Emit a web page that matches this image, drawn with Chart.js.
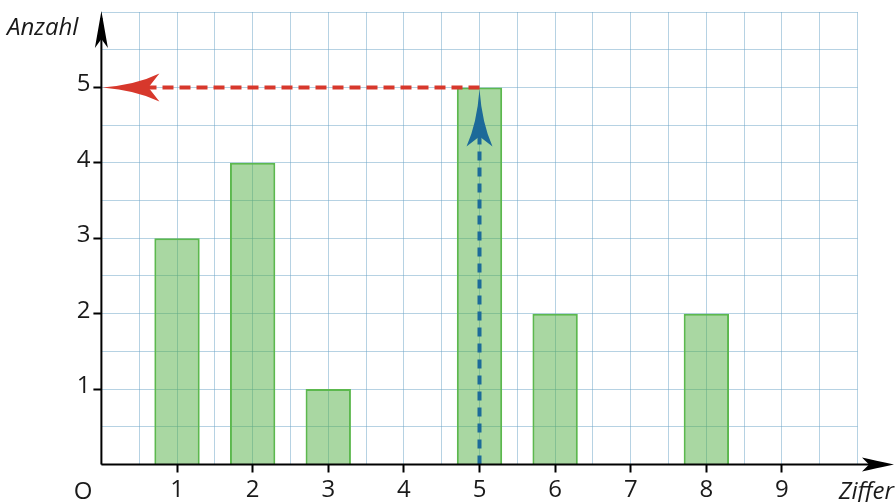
<!DOCTYPE html>
<html>
<head>
<meta charset="utf-8">
<script src="https://cdn.jsdelivr.net/npm/chart.js@4.4.0/dist/chart.umd.min.js"></script>
<style>
  html, body { margin: 0; padding: 0; background: #fff; }
  canvas { display: block; }
</style>
</head>
<body>
<canvas id="chart" width="896" height="502"></canvas>
<script>
// Daten: Ziffer -> Anzahl
const ziffern = [1, 2, 3, 5, 6, 8];
const anzahl  = [3, 4, 1, 5, 2, 2];

// Beschriftete Ticks
const xTicks = [1, 2, 3, 4, 5, 6, 7, 8, 9];
const yTicks = [1, 2, 3, 4, 5];

// Ablesepfeile (Ziffer 5 -> Anzahl 5)
const ableseX = 5;
const ableseY = 5;

const FONT = '"Open Sans", "Noto Sans", sans-serif';
const TEXT = '#1a1a1a';
const GRID = 'rgba(110,165,200,0.5)';

// Pfeilspitze mit eingezogenen Seiten
const pfeil = (ctx, tx, ty, dx, dy, len, half, notch, bow, color) => {
    const px = -dy, py = dx;
    const bx = tx - dx * len, by = ty - dy * len;
    const nx = tx - dx * (len - notch), ny = ty - dy * (len - notch);
    const cx = tx - dx * len * 0.6, cy = ty - dy * len * 0.6;
    ctx.save();
    ctx.fillStyle = color;
    ctx.beginPath();
    ctx.moveTo(tx, ty);
    ctx.quadraticCurveTo(cx + px * half * bow, cy + py * half * bow, bx + px * half, by + py * half);
    ctx.lineTo(nx, ny);
    ctx.lineTo(bx - px * half, by - py * half);
    ctx.quadraticCurveTo(cx - px * half * bow, cy - py * half * bow, tx, ty);
    ctx.closePath();
    ctx.fill();
    ctx.restore();
};

const achsenPlugin = {
    id: 'achsen',
    afterDraw(chart) {
        const { ctx, scales: { x, y } } = chart;
        const x0 = x.getPixelForValue(0);
        const y0 = y.getPixelForValue(0);
        const xa = x.getPixelForValue(ableseX);
        const ya = y.getPixelForValue(ableseY);

        // Ablesen: blau nach oben
        ctx.save();
        ctx.lineWidth = 4;
        ctx.strokeStyle = '#1c6a99';
        ctx.setLineDash([9, 7]);
        ctx.beginPath();
        ctx.moveTo(xa, y0);
        ctx.lineTo(xa, ya + 40);
        ctx.stroke();

        // rot nach links
        ctx.strokeStyle = '#d7382c';
        ctx.setLineDash([11, 6]);
        ctx.beginPath();
        ctx.moveTo(xa, ya);
        ctx.lineTo(x0 + 40, ya);
        ctx.stroke();
        ctx.restore();

        pfeil(ctx, xa, ya + 2, 0, -1, 57, 13, 10, 0.2, '#1c6a99');
        pfeil(ctx, x0 + 1, ya, -1, 0, 57, 14, 11, 0.2, '#d7382c');

        // Achsen
        ctx.save();
        ctx.strokeStyle = '#000';
        ctx.lineWidth = 2;
        ctx.beginPath();
        ctx.moveTo(x0, y0);
        ctx.lineTo(886, y0);
        ctx.moveTo(x0, y0);
        ctx.lineTo(x0, 18);
        ctx.stroke();
        ctx.restore();
        pfeil(ctx, 894, y0, 1, 0, 32, 7, 7, 0.6, '#000');
        pfeil(ctx, x0, 11, 0, -1, 37, 6.5, 9, 0.6, '#000');

        // Achsenbeschriftung
        ctx.save();
        ctx.fillStyle = TEXT;
        ctx.font = 'italic 24px ' + FONT;
        ctx.textBaseline = 'alphabetic';
        ctx.textAlign = 'left';
        ctx.fillText('Anzahl', 7, 35);
        ctx.textAlign = 'right';
        ctx.fillText('Ziffer', 894, 499);
        ctx.font = '24px ' + FONT;
        ctx.textAlign = 'center';
        ctx.fillText('O', 83, 499);
        ctx.restore();
    }
};

const tickFarbe = (ticks) => (c) => ticks.includes(c.tick && c.tick.value) ? '#000' : 'rgba(0,0,0,0)';

new Chart(document.getElementById('chart'), {
    type: 'bar',
    data: {
        datasets: [{
            data: ziffern.map((z, i) => ({ x: z, y: anzahl[i] })),
            backgroundColor: 'rgba(83,176,70,0.5)',
            borderColor: '#5cb84e',
            borderWidth: 2,
            barPercentage: 1.2,
            categoryPercentage: 1
        }]
    },
    options: {
        responsive: false,
        animation: false,
        layout: { padding: { top: 12, right: 38.4, bottom: 0, left: 0 } },
        plugins: { legend: { display: false }, tooltip: { enabled: false } },
        scales: {
            x: {
                type: 'linear',
                min: 0,
                max: 10,
                offset: false,
                afterFit: (s) => { s.height = 37.5; s.paddingLeft = 0; s.paddingRight = 0; },
                border: { display: false },
                grid: {
                    color: GRID,
                    lineWidth: 1,
                    offset: false,
                    tickLength: 8,
                    tickWidth: 2,
                    tickColor: tickFarbe(xTicks)
                },
                ticks: {
                    stepSize: 0.5,
                    autoSkip: false,
                    maxRotation: 0,
                    padding: 3,
                    color: TEXT,
                    font: { family: FONT, size: 24 },
                    callback: (v) => xTicks.includes(v) ? String(v) : ''
                }
            },
            y: {
                min: 0,
                max: 6,
                afterFit: (s) => { s.width = 101.4; s.paddingTop = 0; s.paddingBottom = 0; },
                border: { display: false },
                grid: {
                    color: GRID,
                    lineWidth: 1,
                    tickLength: 8,
                    tickWidth: 2,
                    tickColor: tickFarbe(yTicks)
                },
                ticks: {
                    stepSize: 0.5,
                    autoSkip: false,
                    padding: 3,
                    labelOffset: -3,
                    color: TEXT,
                    font: { family: FONT, size: 24 },
                    callback: (v) => yTicks.includes(v) ? String(v) : ''
                }
            }
        }
    },
    plugins: [achsenPlugin]
});
</script>
</body>
</html>
